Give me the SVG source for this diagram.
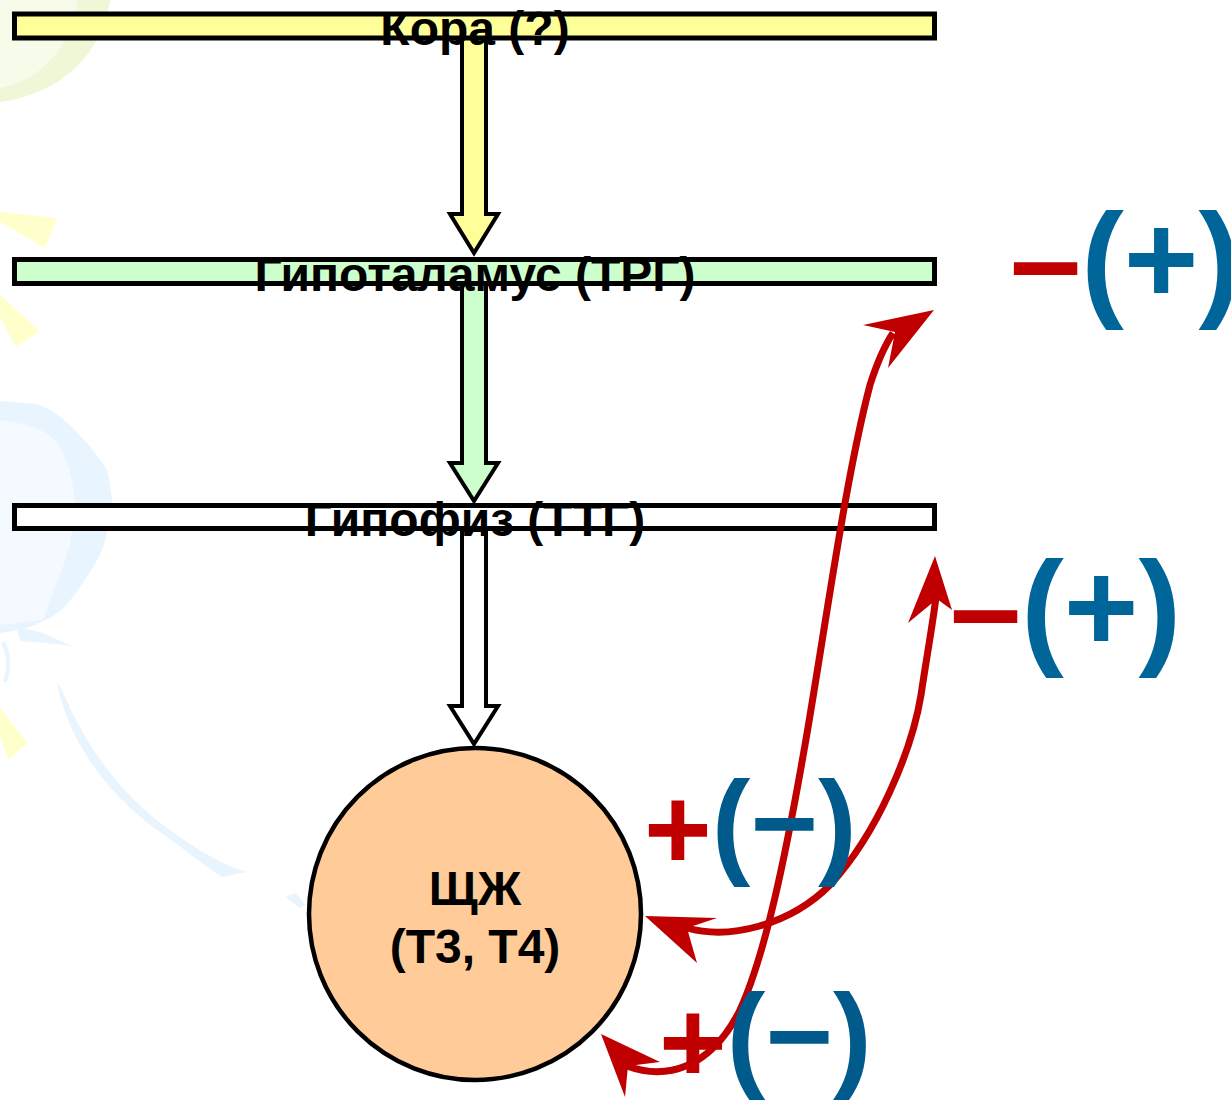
<svg xmlns="http://www.w3.org/2000/svg" width="1231" height="1102" viewBox="0 0 1231 1102">
  <style>
    .bar { stroke: #000; stroke-width: 5; }
    .block { stroke: #000; stroke-width: 4; stroke-linejoin: miter; }
    .title { font-family: "Liberation Sans", Arial, sans-serif; font-weight: bold; font-size: 48px; fill: #000; text-anchor: middle; }
    .organ { font-family: "Liberation Sans", Arial, sans-serif; font-weight: bold; font-size: 48px; fill: #000; text-anchor: middle; }
    .fb { fill: none; stroke: #C00000; stroke-width: 7; }
    .head { fill: #C00000; }
    .sign { font-family: "Liberation Sans", Arial, sans-serif; font-weight: bold; }
    .red { fill: #C00000; }
    .blue { fill: #006699; }
    .blue2 { fill: #005A8C; }
  </style>

  <!-- faint template ornaments on the left edge -->
  <g id="ornament">
    <path d="M0,0 H110 C104,45 70,92 0,102 Z" fill="#EEF8D6"/>
    <path d="M0,0 H78 C72,42 45,80 0,88 Z" fill="#F6FBEA"/>
    <polygon points="0,212 57,218 45,248 0,222" fill="#FFFFCC"/>
    <polygon points="0,295 40,331 16,347 0,318" fill="#FFFFCC"/>
    <polygon points="0,707 27,743 8,760 0,735" fill="#FFFFCC"/>
    <path d="M0,401 L37,404 Q55,410 72,427 Q95,450 108,472 L112,500 Q110,530 100,555 Q80,590 62,610 Q40,625 20,630 L0,633 Z" fill="#E8F5FE"/>
    <path d="M0,420 Q40,425 55,440 Q72,462 75,505 Q73,545 58,580 Q50,600 43,620 L0,625 Z" fill="#F4FAFF"/>
    <polygon points="17,627 40,632 72,646 45,643 20,641" fill="#E8F5FE"/>
    <path d="M3,642 Q12,660 5,682" fill="none" stroke="#E8F5FE" stroke-width="4"/>
    <path d="M57,682 C65,730 100,790 160,832 C185,850 205,866 222,877 L247,872 C225,866 200,852 170,830 C120,795 85,745 62,690 Z" fill="#E8F5FE"/>
    <polygon points="285,897 296,893 305,905 300,908" fill="#E8F5FE"/>
  </g>

  <!-- downward block arrows of the regulation chain -->
  <g id="connectors">
    <path class="block" fill="#FFFF99" d="M462,38 V214 H450 L474,253 L498,214 H486 V38 Z"/>
    <path class="block" fill="#CCFFCC" d="M462,284 V463 H450 L474,501 L498,463 H486 V284 Z"/>
    <path class="block" fill="#FFFFFF" d="M462,530 V706 H450 L474,744 L498,706 H486 V530 Z"/>
  </g>

  <g id="node-cortex">
    <rect class="bar" x="14.5" y="14" width="920" height="24" fill="#FFFF99"/>
    <text class="title" x="475" y="45">Кора (?)</text>
  </g>
  <g id="node-hypothalamus">
    <rect class="bar" x="14.5" y="259.5" width="920" height="24" fill="#CCFFCC"/>
    <text class="title" x="475" y="291">Гипоталамус (ТРГ)</text>
  </g>
  <g id="node-pituitary">
    <rect class="bar" x="14.5" y="505.5" width="920" height="23" fill="#FFFFFF"/>
    <text class="title" x="475" y="536">Гипофиз (ТТГ)</text>
  </g>
  <g id="node-thyroid">
    <circle cx="475" cy="914" r="166" fill="#FFCC99" stroke="#000" stroke-width="4.5"/>
    <text class="organ" x="475" y="905">ЩЖ</text>
    <text class="organ" x="475" y="963">(Т3, Т4)</text>
  </g>

  <!-- feedback loops from the thyroid -->
  <g id="feedback-connectors">
    <path class="fb" d="M627,1066 C665,1080 710,1070 740,1010 C765,955 785,860 805,745 C825,630 845,480 870,385 C878,360 885,345 893,333"/>
    <polygon class="head" points="934,310 863,325 895,332 888,368"/>
    <polygon class="head" points="601,1034 660,1062 628,1066 625,1097"/>
    <path class="fb" d="M687,928 C730,940 790,925 830,885 C878,833 912,750 921,695 C927,655 933,622 936,597"/>
    <polygon class="head" points="935,556 952,610 937,599 908,623"/>
    <polygon class="head" points="645,916 717,918 687,928 697,963"/>
  </g>

  <g id="labels">
    <text class="sign" x="1010" y="303" font-size="128"><tspan class="red">–</tspan><tspan class="blue">(+)</tspan></text>
    <text class="sign" x="950" y="651" font-size="128"><tspan class="red">–</tspan><tspan class="blue">(+)</tspan></text>
    <text class="sign" x="644" y="869" font-size="116"><tspan class="red">+</tspan><tspan class="blue2" dy="-6">(−)</tspan></text>
    <text class="sign" x="659" y="1082" font-size="116"><tspan class="red">+</tspan><tspan class="blue2" dy="-6">(−)</tspan></text>
  </g>
</svg>
